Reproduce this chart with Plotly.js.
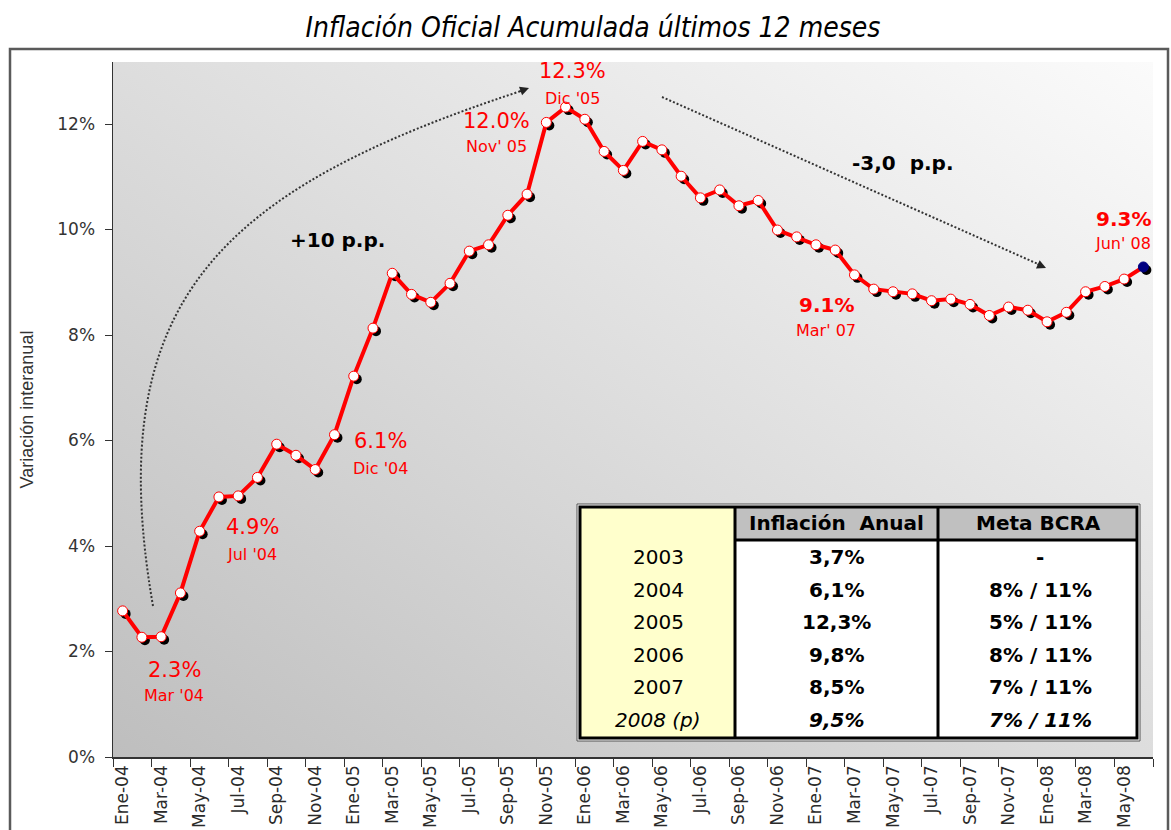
<!DOCTYPE html>
<html>
<head>
<meta charset="utf-8">
<script src="https://cdn.plot.ly/plotly-3.0.1.min.js"></script>
<style>
  body { margin: 0; background: #fff; }
  #chart { width: 1171px; height: 830px; }
</style>
</head>
<body>
<div id="chart"></div>
<script>
// monthly series, Jan 2004 - Jun 2008
const meses = [
  "Ene-04","Feb-04","Mar-04","Abr-04","May-04","Jun-04","Jul-04","Ago-04","Sep-04","Oct-04","Nov-04","Dic-04",
  "Ene-05","Feb-05","Mar-05","Abr-05","May-05","Jun-05","Jul-05","Ago-05","Sep-05","Oct-05","Nov-05","Dic-05",
  "Ene-06","Feb-06","Mar-06","Abr-06","May-06","Jun-06","Jul-06","Ago-06","Sep-06","Oct-06","Nov-06","Dic-06",
  "Ene-07","Feb-07","Mar-07","Abr-07","May-07","Jun-07","Jul-07","Ago-07","Sep-07","Oct-07","Nov-07","Dic-07",
  "Ene-08","Feb-08","Mar-08","Abr-08","May-08","Jun-08"
];
const inflacion = [
  2.77, 2.27, 2.28, 3.11, 4.28, 4.93, 4.95, 5.30, 5.93, 5.72, 5.45, 6.11,
  7.22, 8.13, 9.17, 8.77, 8.62, 8.98, 9.59, 9.71, 10.27, 10.67, 12.03, 12.32,
  12.09, 11.48, 11.12, 11.67, 11.51, 11.01, 10.60, 10.75, 10.45, 10.55, 9.99, 9.86,
  9.71, 9.61, 9.14, 8.87, 8.82, 8.78, 8.65, 8.68, 8.58, 8.37, 8.53, 8.47,
  8.25, 8.43, 8.82, 8.92, 9.06, 9.29
];

// table values
const anios = ["2003", "2004", "2005", "2006", "2007", "2008 (p)"];
const inflAnual = ["3,7%", "6,1%", "12,3%", "9,8%", "8,5%", "9,5%"];
const metaBCRA = ["-", "8% / 11%", "5% / 11%", "8% / 11%", "7% / 11%", "7% / 11%"];

// callouts: value, date, center x, value y, date y, bold
const callouts = [
  ["2.3%", "Mar '04", 174, 670, 695, false],
  ["4.9%", "Jul '04", 252, 527, 554, false],
  ["6.1%", "Dic '04", 380, 441, 469, false],
  ["12.0%", "Nov' 05", 496, 121, 146, false],
  ["12.3%", "Dic '05", 572, 71, 98, false],
  ["9.1%", "Mar' 07", 826, 305, 330, true],
  ["9.3%", "Jun' 08", 1123, 219, 244, true]
];

// plot area in pixels
const L = 113, R = 1153, T = 62, B = 757;
const W = R - L, H = B - T;
function px(x) { return (x - L) / W; }
function py(y) { return (B - y) / H; }

const idx = meses.map((m, i) => i);
const last = inflacion.length - 1;
const xRange = [-0.5, meses.length - 0.5];
const yMax = H / 52.75;
const shx = 3 * (xRange[1] - xRange[0]) / W;
const shy = 3 * yMax / H;

const evenIdx = idx.filter(i => i % 2 === 0);

let shadow = {
  x: idx, y: inflacion, xaxis: "x", yaxis: "y",
  mode: "markers", marker: { size: 10, color: "#000" },
  hoverinfo: "skip", showlegend: false
};
let serie = {
  x: idx, y: inflacion, xaxis: "x2", yaxis: "y2",
  mode: "lines+markers",
  line: { color: "#ff0000", width: 4 },
  marker: {
    size: 10,
    color: inflacion.map((v, i) => i === last ? "#000080" : "#ffffff"),
    line: { color: inflacion.map((v, i) => i === last ? "#000080" : "#ff0000"), width: 1 }
  },
  showlegend: false
};

const grad = "<svg xmlns='http://www.w3.org/2000/svg' width='100' height='100' viewBox='0 0 100 100' preserveAspectRatio='none'>" +
  "<defs><linearGradient id='g' x1='0' y1='1' x2='1' y2='0'>" +
  "<stop offset='0' stop-color='#bebebe'/><stop offset='0.5' stop-color='#dddddd'/><stop offset='1' stop-color='#fbfbfb'/>" +
  "</linearGradient></defs><rect width='100' height='100' fill='url(#g)'/></svg>";

const sans = "DejaVu Sans, Verdana, sans-serif";
let annotations = [];
let shapes = [];

function label(x, y, text, size, color) {
  annotations.push({
    xref: "paper", yref: "paper", x: px(x), y: py(y),
    xanchor: "center", yanchor: "middle", showarrow: false,
    text: text, font: { family: sans, size: size, color: color }
  });
}

callouts.forEach(c => {
  label(c[2], c[3], c[5] ? "<b>" + c[0] + "</b>" : c[0], c[5] ? 20 : 21, "#ff0000");
  label(c[2], c[4], c[1], 16, "#ff0000");
});

label(337, 240, "<b>+10 p.p.</b>", 20, "#000");
label(902, 163, "<b>-3,0\u00a0 p.p.</b>", 20, "#000");

// dotted arrows
shapes.push({
  type: "path", xref: "paper", yref: "paper",
  path: "M" + px(153) + "," + py(606) + " C" + px(100) + "," + py(300) + " " +
        px(220) + "," + py(190) + " " + px(521) + "," + py(91),
  line: { color: "#333", width: 2, dash: "2px,2px" }
});
annotations.push({
  xref: "paper", yref: "paper", x: px(529), y: py(88), ax: -11, ay: 4,
  showarrow: true, arrowhead: 2, arrowsize: 1.2, arrowwidth: 1.5, arrowcolor: "#222", text: ""
});
shapes.push({
  type: "line", xref: "paper", yref: "paper",
  x0: px(662), y0: py(97), x1: px(1038), y1: py(264),
  line: { color: "#333", width: 2, dash: "2px,2px" }
});
annotations.push({
  xref: "paper", yref: "paper", x: px(1046), y: py(268), ax: -10, ay: -4.5,
  showarrow: true, arrowhead: 2, arrowsize: 1.2, arrowwidth: 1.5, arrowcolor: "#222", text: ""
});

// outer frame of the whole chart
shapes.push({
  type: "rect", xref: "paper", yref: "paper",
  x0: px(10), x1: px(1168), y0: py(49), y1: py(860),
  line: { color: "#5a5a5a", width: 2.5 }
});

// table
function rect(x0, y0, x1, y1, fill, lc, lw) {
  shapes.push({
    type: "rect", xref: "paper", yref: "paper",
    x0: px(x0), x1: px(x1), y0: py(y0), y1: py(y1),
    fillcolor: fill, line: { color: lc, width: lw }
  });
}
function seg(x0, y0, x1, y1, lw) {
  shapes.push({
    type: "line", xref: "paper", yref: "paper",
    x0: px(x0), x1: px(x1), y0: py(y0), y1: py(y1),
    line: { color: "#000", width: lw }
  });
}
rect(577, 504, 1140, 741, "#ffffff", "#555", 1);
rect(580, 507, 735, 738, "#ffffcc", "rgba(0,0,0,0)", 0);
rect(735, 507, 1137, 540, "#c0c0c0", "rgba(0,0,0,0)", 0);
rect(580, 507, 1137, 738, "rgba(0,0,0,0)", "#000", 3);
seg(735, 507, 735, 738, 3);
seg(938, 507, 938, 738, 3);
seg(735, 540, 1137, 540, 3);

label(836, 523, "<b>Inflación\u00a0 Anual</b>", 20, "#000");
label(1038, 523, "<b>Meta BCRA</b>", 20, "#000");
anios.forEach((a, k) => {
  const yy = 557 + k * 32.6;
  const it = k === anios.length - 1;
  label(658, yy, it ? "<i>" + a + "</i>" : a, 20, "#000");
  label(836, yy, it ? "<b><i>" + inflAnual[k] + "</i></b>" : "<b>" + inflAnual[k] + "</b>", 20, "#000");
  label(1040, yy, it ? "<b><i>" + metaBCRA[k] + "</i></b>" : "<b>" + metaBCRA[k] + "</b>", 20, "#000");
});

let layout = {
  width: 1171, height: 830,
  margin: { l: L, r: 1171 - R, t: T, b: 830 - B },
  paper_bgcolor: "#ffffff",
  plot_bgcolor: "rgba(0,0,0,0)",
  title: {
    text: "Inflación Oficial Acumulada últimos 12 meses",
    xref: "container", x: 593 / 1171, xanchor: "center",
    yref: "container", y: 1 - 27 / 830, yanchor: "middle",
    font: { family: "Liberation Sans Narrow, DejaVu Sans Condensed, Arial Narrow, sans-serif", size: 28, style: "italic", color: "#000" }
  },
  xaxis: { range: [xRange[0] - shx, xRange[1] - shx], visible: false, fixedrange: true },
  yaxis: { range: [shy, yMax + shy], visible: false, fixedrange: true },
  xaxis2: {
    overlaying: "x", anchor: "y2", side: "bottom",
    range: xRange, tickmode: "array", tickvals: evenIdx,
    ticktext: evenIdx.map(i => meses[i]),
    ticks: "", tickangle: -90,
    minor: { tickmode: "linear", tick0: -0.5, dtick: 2, ticks: "outside", ticklen: 8, tickcolor: "#333", tickwidth: 1 },
    showline: true, linecolor: "#333", linewidth: 1.5,
    showgrid: false, zeroline: false,
    tickfont: { family: sans, size: 17, color: "#2a2a2a" }
  },
  yaxis2: {
    overlaying: "y", anchor: "x2", side: "left",
    range: [0, yMax], dtick: 2, ticksuffix: "%",
    ticks: "outside", ticklen: 7, tickcolor: "#333",
    ticklabelstandoff: 6,
    showline: true, linecolor: "#333", linewidth: 1.5,
    showgrid: false, zeroline: false,
    tickfont: { family: sans, size: 17, color: "#333" },
    title: { text: "Variación interanual", standoff: 19, font: { family: "Liberation Sans, Arial, sans-serif", size: 18, color: "#333" } }
  },
  images: [{
    source: "data:image/svg+xml;charset=utf-8," + encodeURIComponent(grad),
    xref: "paper", yref: "paper", x: 0, y: 1, sizex: 1, sizey: 1,
    xanchor: "left", yanchor: "top", sizing: "stretch", layer: "below"
  }],
  shapes: shapes,
  annotations: annotations
};

Plotly.newPlot("chart", [shadow, serie], layout, { displayModeBar: false, staticPlot: true });
</script>
</body>
</html>
